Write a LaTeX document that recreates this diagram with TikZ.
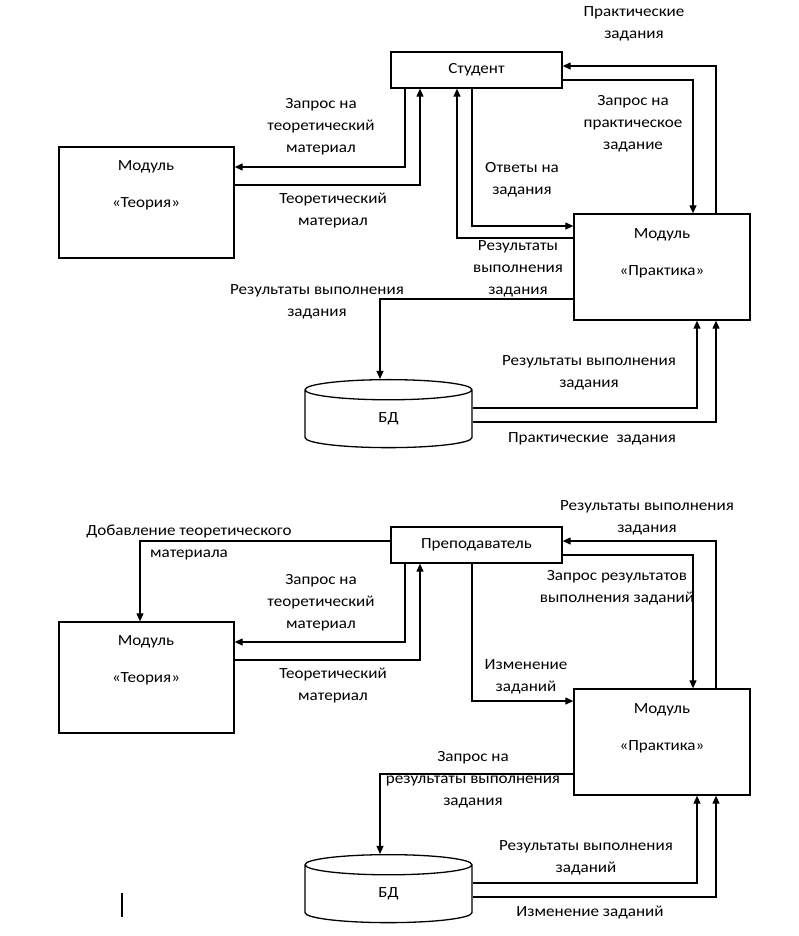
\documentclass[tikz,border=0pt]{standalone}
\usepackage{fontspec}
\setmainfont[FakeStretch=1.1]{Carlito}
\usetikzlibrary{arrows.meta,shapes.geometric}

\begin{document}
\begin{tikzpicture}[x=1pt, y=-1pt, line width=1.1pt, >={Triangle[length=8pt,width=7pt]}]

\tikzstyle{every node} = [font=\fontsize{15.5}{22}\selectfont, inner sep=0pt]
\tikzstyle{box} = [rectangle, draw, line width=1.3pt]
\tikzstyle{lbl} = [align=center]
\tikzstyle{base} = [cylinder, draw, line width=1.3pt, shape border rotate=90, aspect=1.0, minimum width=167, minimum height=68]

\useasboundingbox (0,0) rectangle (799,936);

% student
\node[box, minimum width=171, minimum height=36] (s) at (476.5,70) {Студент};
\node[box, minimum width=175, minimum height=111] (t) at (146.5,202.5) {};
\node[lbl, font=\fontsize{15.5}{37}\selectfont] (tt) at (146,185) {Модуль\\«Теория»};
\node[box, minimum width=176, minimum height=106] (p) at (662,267) {};
\node[lbl, font=\fontsize{15.5}{37}\selectfont] (pt) at (662,253) {Модуль\\«Практика»};
\node[base] (b) at (388.5,419) {БД};

\draw[->] (s.south -| 405,0) |- (t.east |- 0,167);
\draw[->] (t.east |- 0,185) -| (s.south -| 420,0);
\draw[->] (p.west |- 0,238) -| (s.south -| 457,0);
\draw[->] (s.south -| 472,0) |- (p.west |- 0,226);
\draw[->] (s.east |- 0,80) -| (p.north -| 693,0);
\draw[->] (p.north -| 716,0) |- (s.east |- 0,66);
\draw[->] (p.west |- 0,299) -| (b.north -| 380,0);
\draw[->] (b.east |- 0,408) -| (p.south -| 697,0);
\draw[->] (b.east |- 0,422) -| (p.south -| 716,0);

\node[lbl] (l1) at (634,23.5) {Практические\\задания};
\node[lbl] (l2) at (633,124) {Запрос на\\практическое\\задание};
\node[lbl] (l3) at (522,180) {Ответы на\\задания};
\node[lbl] (l4) at (518,269) {Результаты\\выполнения\\задания};
\node[lbl] (l5) at (317,302) {Результаты выполнения\\задания};
\node[lbl] (l6) at (321,127) {Запрос на\\теоретический\\материал};
\node[lbl] (l7) at (333,211) {Теоретический\\материал};
\node[lbl] (l8) at (589,373) {Результаты выполнения\\задания};
\node[lbl] (l9) at (592,439) {Практические\ \ задания};

% teacher
\node[box, minimum width=171, minimum height=36] (r) at (476.5,545) {Преподаватель};
\node[box, minimum width=175, minimum height=111] (t2) at (146.5,677.5) {};
\node[lbl, font=\fontsize{15.5}{37}\selectfont] (tt2) at (146,660) {Модуль\\«Теория»};
\node[box, minimum width=176, minimum height=106] (p2) at (662,742) {};
\node[lbl, font=\fontsize{15.5}{37}\selectfont] (pt2) at (662,728) {Модуль\\«Практика»};
\node[base] (b2) at (388.5,894) {БД};

\draw[->] (r.west |- 0,541) -| (t2.north -| 140,0);
\draw[->] (r.south -| 405,0) |- (t2.east |- 0,642);
\draw[->] (t2.east |- 0,660) -| (r.south -| 420,0);
\draw[->] (r.south -| 472,0) |- (p2.west |- 0,701);
\draw[->] (r.east |- 0,555) -| (p2.north -| 693,0);
\draw[->] (p2.north -| 716,0) |- (r.east |- 0,541);
\draw[->] (p2.west |- 0,774) -| (b2.north -| 380,0);
\draw[->] (b2.east |- 0,883) -| (p2.south -| 697,0);
\draw[->] (b2.east |- 0,897) -| (p2.south -| 716,0);

\node[lbl] (m1) at (189,542) {Добавление теоретического\\материала};
\node[lbl] (m2) at (321,603) {Запрос на\\теоретический\\материал};
\node[lbl] (m3) at (333,686) {Теоретический\\материал};
\node[lbl] (m4) at (526,676.5) {Изменение\\заданий};
\node[lbl] (m5) at (617,588) {Запрос результатов\\выполнения заданий};
\node[lbl] (m6) at (647,518) {Результаты выполнения\\задания};
\node[lbl] (m7) at (473,780) {Запрос на\\результаты выполнения\\задания};
\node[lbl] (m8) at (586,858) {Результаты выполнения\\заданий};
\node[lbl] (m9) at (590,913) {Изменение заданий};

\draw[line width=1.8pt] (122,893) -- (122,917);

\end{tikzpicture}
\end{document}
